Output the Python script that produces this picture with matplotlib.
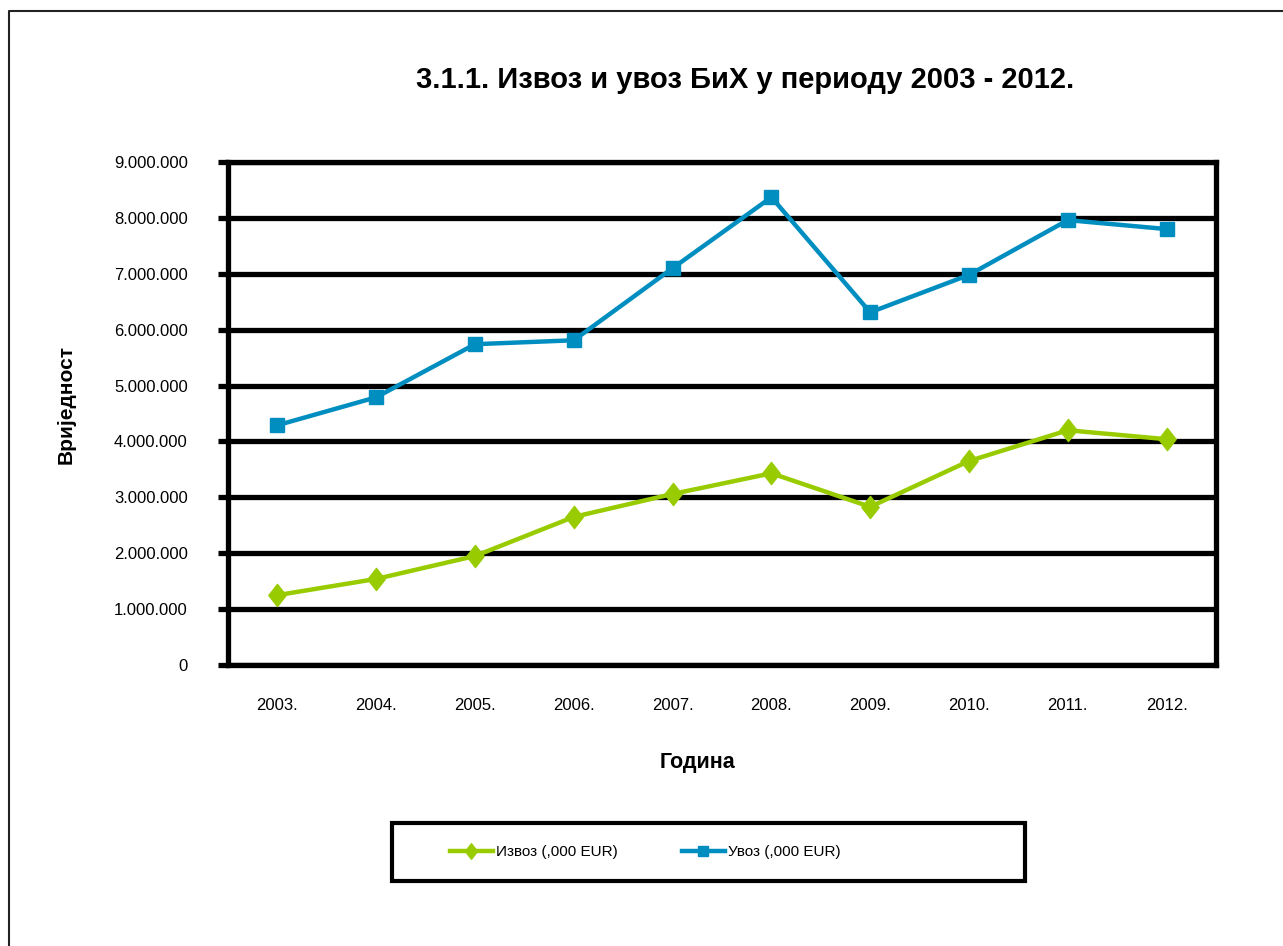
import matplotlib
matplotlib.use("Agg")
import matplotlib.pyplot as plt
from matplotlib.patches import Rectangle
from matplotlib.lines import Line2D
from matplotlib.path import Path
from matplotlib.ticker import FuncFormatter

years = ["2003.", "2004.", "2005.", "2006.", "2007.", "2008.", "2009.", "2010.", "2011.", "2012."]
izvoz = [1250000, 1540000, 1950000, 2650000, 3060000, 3430000, 2830000, 3650000, 4200000, 4040000]
uvoz = [4290000, 4790000, 5740000, 5810000, 7100000, 8370000, 6310000, 6980000, 7960000, 7800000]
y_ticks = [0, 1000000, 2000000, 3000000, 4000000, 5000000, 6000000, 7000000, 8000000, 9000000]

plt.rcParams['font.family'] = ['Liberation Sans', 'DejaVu Sans']

W, H = 1283, 946
fig = plt.figure(figsize=(12.83, 9.46), dpi=100)
ax = fig.add_axes([228/W, 1-665/H, (1216-228)/W, (665-162)/H])

diamond = Path([(0, 1), (0.78, 0), (0, -1), (-0.78, 0), (0, 1)],
               [Path.MOVETO, Path.LINETO, Path.LINETO, Path.LINETO, Path.CLOSEPOLY])

x = list(range(len(years)))
green = "#99CC00"
blue = "#008EC0"
ax.plot(x, izvoz, color=green, lw=3.2, marker=diamond, markersize=16, label="Извоз (,000 EUR)", zorder=3)
ax.plot(x, uvoz, color=blue, lw=3.2, marker="s", markersize=10.5, label="Увоз (,000 EUR)", zorder=3)

ax.set_xlim(-0.5, len(years)-0.5)
ax.set_ylim(0, 9000000)
ax.set_yticks(y_ticks)
ax.yaxis.set_major_formatter(FuncFormatter(lambda v, p: f"{int(v):,}".replace(",", ".")))
ax.set_xticks(x)
ax.set_xticklabels(years)
ax.grid(axis="y", color="black", lw=3.8, zorder=1)
ax.set_axisbelow(True)
for s in ax.spines.values():
    s.set_linewidth(3.8)
    s.set_color("black")
ax.tick_params(axis="y", length=7, width=3.8, pad=22, labelsize=12)
ax.tick_params(axis="x", length=0, pad=24, labelsize=12)

fig.text(745/W, 1-80/H, "3.1.1. Извоз и увоз БиХ у периоду 2003 - 2012.", ha="center", va="center",
         fontsize=21, fontweight="bold")
fig.text(66/W, 1-404/H, "Вриједност", ha="center", va="center", rotation=90,
         fontsize=15, fontweight="bold")
fig.text(697/W, 1-762/H, "Година", ha="center", va="center",
         fontsize=15.5, fontweight="bold")

leg = fig.legend(loc="center left", bbox_to_anchor=(450/W, 1-852/H), ncol=2,
                 frameon=False, fontsize=11, borderpad=0, borderaxespad=0,
                 handlelength=2.8, handletextpad=0.2, columnspacing=4.2, markerscale=0.7)

fig.patches.append(Rectangle((392/W, 1-881/H), (1025-392)/W, (881-823)/H,
                             transform=fig.transFigure, fill=False, edgecolor="black", lw=3))
# outer chart border (left and top edges visible)
fig.lines.append(Line2D([8.5/W, 8.5/W, 1.0], [0.0, 1-11.5/H, 1-11.5/H],
                        transform=fig.transFigure, color="#222222", lw=1.5))

fig.savefig("out.png", dpi=100, facecolor="white")
